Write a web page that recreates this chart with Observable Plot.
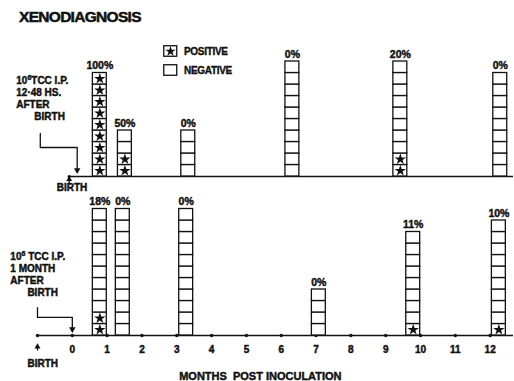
<!DOCTYPE html>
<html><head><meta charset="utf-8">
<script src="https://cdn.jsdelivr.net/npm/d3@7"></script>
<script src="https://cdn.jsdelivr.net/npm/@observablehq/plot@0.6"></script>
<style>
body{margin:0;background:#fff;}
#wrap{position:relative;width:514px;height:381px;overflow:hidden;font-family:"Liberation Sans",Arial,sans-serif;font-weight:bold;color:#111;}
#title{position:absolute;left:19px;top:9px;font-size:15.5px;letter-spacing:-0.7px;line-height:1;-webkit-text-stroke:0.5px #111;}
#legend{position:absolute;left:163px;top:45px;font-size:10px;letter-spacing:-0.3px;-webkit-text-stroke:0.35px #111;}
#legend .li{display:flex;align-items:center;height:12px;margin-bottom:7px;}
#legend svg{margin-right:6px;}
#top{position:absolute;left:0;top:0;}
#bottom{position:absolute;left:0;top:195px;}
</style></head>
<body>
<div id="wrap">
  <div id="top"></div>
  <div id="bottom"></div>
  <div id="title">XENODIAGNOSIS</div>
  <div id="legend"></div>
</div>
<script>
// ---- data ----
const topMonths = [0.79, 1.51, 3.33, 6.32, 9.42, 12.29];
const topTotals = [9, 4, 4, 10, 10, 9];
const topPositives = [9, 2, 0, 0, 2, 0];
const topLabels = ["100%", "50%", "0%", "0%", "20%", "0%"];

const bottomMonths = [0.79, 1.45, 3.27, 7.08, 9.79, 12.25];
const bottomTotals = [11, 11, 11, 4, 9, 10];
const bottomPositives = [2, 0, 0, 0, 1, 1];
const bottomLabels = ["18%", "0%", "0%", "0%", "11%", "10%"];

const tickMonths = [0, 1, 2, 3, 4, 5, 6, 7, 8, 9, 10, 11, 12];
const birthTop = -0.09, inocTop = 0.14;
const birthBottom = -1, inocBottom = 0;
const topNote = ["10⁶TCC I.P.", "12·48 HS.", "AFTER", "BIRTH"];
const bottomNote = ["10⁶ TCC I.P.", "1 MONTH", "AFTER", "BIRTH"];
const legendLabels = ["POSITIVE", "NEGATIVE"];
const xLabel = "MONTHS  POST INOCULATION";

// ---- helpers ----
const FONT = "Liberation Sans, Arial, sans-serif";
const X = {domain: [-1, 12.67], range: [37, 513]};
const HALF = 0.2;
const INK = "#111";
const TXT = {fontWeight: "bold", fill: INK, stroke: INK, strokeWidth: 0.45};
function bars(months, totals, positives, labels) {
  return months.map((m, i) => ({m, total: totals[i], pos: positives[i], label: labels[i]}));
}
function cells(b) {
  return b.flatMap(d => d3.range(d.total).map(k => ({m: d.m, k, pos: k < d.pos})));
}
function barMarks(b) {
  const c = cells(b);
  return [
    Plot.rect(c, {x1: d => d.m - HALF, x2: d => d.m + HALF, y1: d => d.k, y2: d => d.k + 1,
      fill: "white", stroke: INK, strokeWidth: 1.3}),
    Plot.dot(c.filter(d => d.pos), {x: d => d.m, y: d => d.k + 0.5, symbol: "star", r: 3.6, fill: INK, stroke: "none"}),
    Plot.text(b, {x: d => d.m, y: d => d.total, text: d => d.label, dy: -7, fontSize: 10.5,
      letterSpacing: -0.5, ...TXT})
  ];
}
function bracket(xs, xe, yTop, yMid) {
  const pts = [{x: xs, y: yTop}, {x: xs, y: yMid}, {x: xe, y: yMid}, {x: xe, y: 0.6}];
  return [
    Plot.line(pts, {x: "x", y: "y", stroke: INK, strokeWidth: 1.3}),
    Plot.dot([{x: xe, y: 0.55}], {x: "x", y: "y", symbol: "triangle", r: 2.4, rotate: 180, fill: INK, stroke: "none"})
  ];
}
function note(lines, xMain, xLast, yFirst) {
  const rows = lines.map((t, i) => ({t, x: i === lines.length - 1 ? xLast : xMain, y: yFirst - i * 1.04}));
  return Plot.text(rows, {x: "x", y: "y", text: "t", textAnchor: "start", fontSize: 10,
    letterSpacing: -0.3, ...TXT});
}
function superscript(plot) {
  d3.select(plot).selectAll("text").each(function() {
    if (this.childElementCount === 0 && this.textContent.includes("⁶")) {
      const [a, b] = this.textContent.split("⁶");
      const el = d3.select(this).text(a);
      el.append("tspan").attr("dy", -4).attr("font-size", 7).text("6");
      el.append("tspan").attr("dy", 4).text(b);
    }
  });
  return plot;
}

// ---- top panel ----
const topBars = bars(topMonths, topTotals, topPositives, topLabels);
const topPlot = Plot.plot({
  width: 514, height: 195, marginTop: 38, marginBottom: 19, marginLeft: 37, marginRight: 1,
  style: {fontFamily: FONT, background: "transparent", overflow: "visible"},
  x: {...X, axis: null},
  y: {domain: [0, 12], axis: null},
  marks: [
    Plot.ruleY([{y: 0, a: birthTop, b: X.domain[1]}], {y: "y", x1: "a", x2: "b", stroke: INK, strokeWidth: 1.7}),
    Plot.dot([birthTop], {x: d => d, y: 0, r: 1.6, fill: INK, stroke: "none"}),
    ...barMarks(topBars),
    ...bracket(-0.92, inocTop, 3.74, 2.52),
    Plot.ruleX([{x: birthTop, y1: -0.75, y2: -0.2}], {x: "x", y1: "y1", y2: "y2", stroke: INK, strokeWidth: 1.3}),
    Plot.dot([{x: birthTop, y: -0.25}], {x: "x", y: "y", symbol: "triangle", r: 2.2, fill: INK, stroke: "none"}),
    Plot.text([{x: birthTop + 0.08, t: "BIRTH"}], {x: "x", y: 0, text: "t", dy: 11, fontSize: 10, letterSpacing: -0.3, ...TXT}),
    note(topNote, -1.61, -1.09, 8.35)
  ]
});
document.getElementById("top").append(superscript(topPlot));

// ---- bottom panel ----
const bottomBars = bars(bottomMonths, bottomTotals, bottomPositives, bottomLabels);
const allTicks = [birthBottom, ...tickMonths];
const bottomPlot = Plot.plot({
  width: 514, height: 186, marginTop: 2, marginBottom: 46, marginLeft: 37, marginRight: 1,
  style: {fontFamily: FONT, background: "transparent", overflow: "visible"},
  x: {...X, axis: null},
  y: {domain: [0, 12], axis: null},
  marks: [
    Plot.ruleY([{y: 0, a: birthBottom, b: X.domain[1]}], {y: "y", x1: "a", x2: "b", stroke: INK, strokeWidth: 1.7}),
    Plot.dot(allTicks, {x: d => d, y: 0, r: 1.7, fill: INK, stroke: "none"}),
    ...barMarks(bottomBars),
    ...bracket(birthBottom, inocBottom, 2.43, 1.57),
    Plot.text(tickMonths, {x: d => d, y: 0, text: d => String(d), dy: 14, fontSize: 10, ...TXT}),
    Plot.ruleX([{x: birthBottom, y1: -1.35, y2: -0.95}], {x: "x", y1: "y1", y2: "y2", stroke: INK, strokeWidth: 1.3}),
    Plot.dot([{x: birthBottom, y: -0.98}], {x: "x", y: "y", symbol: "triangle", r: 2.2, fill: INK, stroke: "none"}),
    Plot.text([{x: birthBottom + 0.15, t: "BIRTH"}], {x: "x", y: 0, text: "t", dy: 28, fontSize: 10, letterSpacing: -0.3, ...TXT}),
    Plot.text([{x: 5.4, t: xLabel}], {x: "x", y: 0, text: "t", dy: 41, fontSize: 11, letterSpacing: -0.4, ...TXT}),
    note(bottomNote, -1.78, -1.29, 6.87)
  ]
});
document.getElementById("bottom").append(superscript(bottomPlot));

// ---- legend ----
const leg = d3.select("#legend");
const starPath = d3.symbol(d3.symbolStar, 34)();
legendLabels.forEach((lab, i) => {
  const row = leg.append("div").attr("class", "li");
  const svg = row.append("svg").attr("width", 15).attr("height", 12);
  svg.append("rect").attr("x", 0.75).attr("y", 0.75).attr("width", 13).attr("height", 10.5)
    .attr("fill", "white").attr("stroke", INK).attr("stroke-width", 1.3);
  if (i === 0) svg.append("path").attr("d", starPath).attr("transform", "translate(7.5,6.4)").attr("fill", INK);
  row.append("span").text(lab);
});
</script>
</body></html>
